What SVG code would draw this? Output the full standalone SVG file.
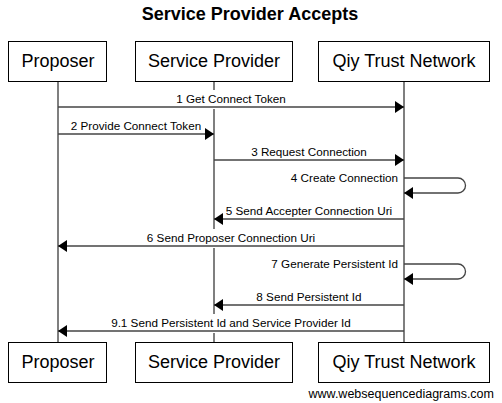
<svg xmlns="http://www.w3.org/2000/svg" width="502" height="403" viewBox="0 0 502 403">
<defs>
<marker id="ah" markerWidth="9" markerHeight="12" refX="9" refY="6" orient="auto" markerUnits="userSpaceOnUse">
<path d="M0,0 L9,6 L0,12 Z" fill="#000"/>
</marker>
<style>
.box{fill:#fff;stroke:#000;stroke-width:1}
.nt{font-family:"Liberation Sans",Arial,sans-serif;font-size:18px;fill:#000;text-anchor:middle}
.lbl{font-family:"Liberation Sans",Arial,sans-serif;font-size:11.7px;fill:#000;text-anchor:middle}
.lbe{text-anchor:end}
.bg{fill:#fff;stroke:none}
.ll{stroke:#555;stroke-width:1.5;fill:none}
.msg{stroke:#444;stroke-width:1.3;fill:none;marker-end:url(#ah)}
</style>
</defs>
<rect width="502" height="403" fill="#fff"/>
<text x="250" y="20" font-family="Liberation Sans,Arial,sans-serif" font-size="18" font-weight="bold" text-anchor="middle">Service Provider Accepts</text>
<g id="lifelines">
<line class="ll" x1="58" y1="81" x2="58" y2="342"/>
<line class="ll" x1="214" y1="81" x2="214" y2="342"/>
<line class="ll" x1="404" y1="81" x2="404" y2="342"/>
</g>
<g id="node-proposer">
<rect class="box" x="8.5" y="41.5" width="98" height="40"/>
<text class="nt" x="58" y="67">Proposer</text>
<rect class="box" x="8.5" y="342.5" width="98" height="40"/>
<text class="nt" x="58" y="368">Proposer</text>
</g>
<g id="node-service-provider">
<rect class="box" x="135.5" y="41.5" width="157" height="40"/>
<text class="nt" x="214" y="67">Service Provider</text>
<rect class="box" x="135.5" y="342.5" width="157" height="40"/>
<text class="nt" x="214" y="368">Service Provider</text>
</g>
<g id="node-qiy">
<rect class="box" x="318.5" y="41.5" width="171" height="40"/>
<text class="nt" x="404" y="67">Qiy Trust Network</text>
<rect class="box" x="318.5" y="342.5" width="171" height="40"/>
<text class="nt" x="404" y="368">Qiy Trust Network</text>
</g>
<g id="connectors">
<rect class="bg" x="173" y="90" width="116" height="19"/>
<line class="msg" x1="58" y1="107" x2="404" y2="107"/>
<text class="lbl" x="231" y="103">1 Get Connect Token</text>
<rect class="bg" x="68" y="117" width="136" height="19"/>
<line class="msg" x1="58" y1="134" x2="214" y2="134"/>
<text class="lbl" x="136" y="130">2 Provide Connect Token</text>
<rect class="bg" x="249" y="143" width="120" height="19"/>
<line class="msg" x1="214" y1="160" x2="404" y2="160"/>
<text class="lbl" x="309" y="156">3 Request Connection</text>
<path class="msg" d="M404,178 H458 A7.5,7.5 0 0 1 458,193 H404"/>
<text class="lbl lbe" x="398" y="182">4 Create Connection</text>
<rect class="bg" x="223" y="202" width="172" height="19"/>
<line class="msg" x1="404" y1="219" x2="214" y2="219"/>
<text class="lbl" x="309" y="215">5 Send Accepter Connection Uri</text>
<rect class="bg" x="145" y="229" width="172" height="19"/>
<line class="msg" x1="404" y1="246" x2="58" y2="246"/>
<text class="lbl" x="231" y="242">6 Send Proposer Connection Uri</text>
<path class="msg" d="M404,264 H458 A7.5,7.5 0 0 1 458,279 H404"/>
<text class="lbl lbe" x="398" y="268">7 Generate Persistent Id</text>
<rect class="bg" x="254" y="288" width="110" height="19"/>
<line class="msg" x1="404" y1="305" x2="214" y2="305"/>
<text class="lbl" x="309" y="301">8 Send Persistent Id</text>
<rect class="bg" x="109" y="314" width="244" height="19"/>
<line class="msg" x1="404" y1="331" x2="58" y2="331"/>
<text class="lbl" x="231" y="327">9.1 Send Persistent Id and Service Provider Id</text>
</g>
<text x="494" y="398" font-family="Liberation Sans,Arial,sans-serif" font-size="12.5" text-anchor="end">www.websequencediagrams.com</text>
</svg>
